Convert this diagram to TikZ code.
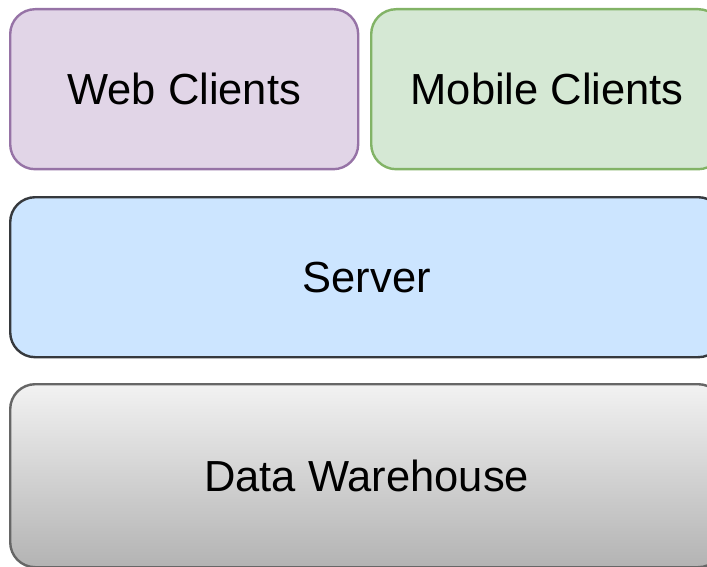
\documentclass[tikz,border=0pt]{standalone}
\usepackage{fontspec}
\setmainfont{Liberation Sans}
\usepackage{tikz}
\usetikzlibrary{positioning}

\definecolor{webfill}{HTML}{E1D5E7}
\definecolor{webline}{HTML}{9673A6}
\definecolor{mobfill}{HTML}{D5E8D4}
\definecolor{mobline}{HTML}{82B366}
\definecolor{srvfill}{HTML}{CCE5FF}
\definecolor{srvline}{HTML}{36393D}
\definecolor{dwtop}{HTML}{F2F2F2}
\definecolor{dwbot}{HTML}{B3B3B3}
\definecolor{dwline}{HTML}{666666}

\begin{document}
\begin{tikzpicture}[x=1pt,y=-1pt,
    layer/.style={draw,line width=2.4pt,rounded corners=25pt,anchor=north west,
      inner sep=0pt,font=\fontsize{43.5}{50}\selectfont},
    client/.style={layer,minimum width=348pt,minimum height=160pt},
    tier/.style={layer,minimum width=713pt,minimum height=160pt}]
      \useasboundingbox (0,0) rectangle (707,567);
      \clip (0,0) rectangle (707,567);
      % Clients on top
      \node[client,fill=webfill,draw=webline] (web) at (9,8) {Web Clients};
      \node[client,fill=mobfill,draw=mobline,minimum width=352pt] (mobile) at (370,8) {Mobile Clients};
      % Server
      \node[tier,fill=srvfill,draw=srvline] (server) at (9,196) {Server};
      % Data warehouse (gradient)
      \node[tier,top color=dwtop,bottom color=dwbot,draw=dwline,minimum height=183pt] (dw) at (9,383) {Data Warehouse};
    \end{tikzpicture}
\end{document}
